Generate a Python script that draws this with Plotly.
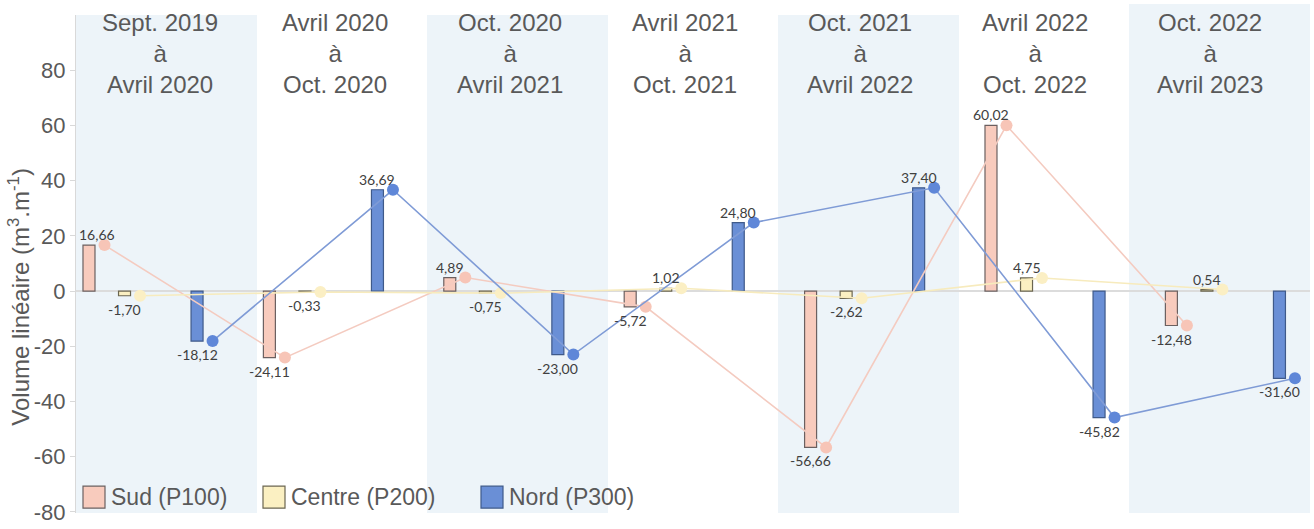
import plotly.graph_objects as go

# Periods between surveys
periods = [
    "Sept. 2019<br>à<br>Avril 2020",
    "Avril 2020<br>à<br>Oct. 2020",
    "Oct. 2020<br>à<br>Avril 2021",
    "Avril 2021<br>à<br>Oct. 2021",
    "Oct. 2021<br>à<br>Avril 2022",
    "Avril 2022<br>à<br>Oct. 2022",
    "Oct. 2022<br>à<br>Avril 2023",
]

# Linear sediment volume change per profile (m3.m-1)
sud = [16.66, -24.11, 4.89, -5.72, -56.66, 60.02, -12.48]
centre = [-1.70, -0.33, -0.75, 1.02, -2.62, 4.75, 0.54]
nord = [-18.12, 36.69, -23.00, 24.80, 37.40, -45.82, -31.60]

series_names = ["Sud (P100)", "Centre (P200)", "Nord (P300)"]

y_ticks = [-80, -60, -40, -20, 0, 20, 40, 60, 80]
y_ticktext = ["-80", "-60", "-40", "-20", "0", "20", "40", "60", "80"]

# ---- layout constants -------------------------------------------------
W, H = 1314, 529
ML, MR, MT, MB = 76, 4, 15, 12
PLOT_W = W - ML - MR
PLOT_H = H - MT - MB
PERIOD_PX = 180.4                      # horizontal spacing of one period
X_MAX = PLOT_W / PERIOD_PX

BAR_OFFSETS = [0.072, 0.269, 0.671]    # bar position inside a period
MARKER_SHIFT = 0.086                   # points sit just right of their bar
BAR_WIDTH = 0.0665

BAND_STEP = 175.5 / PERIOD_PX          # shaded column spacing
BAND_WIDTH = 181 / PERIOD_PX

TEXT = "#595959"
LABEL = "#404040"
FONT = "Liberation Sans, Arial, sans-serif"

fills = ["#f8cbbd", "#fbf0c2", "#6a8fd6"]
edges = ["#6b6060", "#6b6650", "#3f5a8a"]
line_cols = ["#f4cbc0", "#f7ebbd", "#7f9bd6"]
marker_cols = ["#f7c5b7", "#fbefc4", "#5f87d8"]


def px_x(px):
    return (px - ML) / PLOT_W


def px_y(py):
    return (H - MB - py) / PLOT_H


fig = go.Figure()

all_series = [sud, centre, nord]
idx = list(range(len(periods)))

for s, vals in enumerate(all_series):
    xb = [i + BAR_OFFSETS[s] for i in idx]
    fig.add_trace(go.Bar(
        x=xb, y=vals, width=BAR_WIDTH, name=series_names[s],
        marker=dict(color=fills[s], line=dict(color=edges[s], width=1.2)),
        showlegend=False, hoverinfo="skip",
    ))

for s, vals in enumerate(all_series):
    xm = [i + BAR_OFFSETS[s] + MARKER_SHIFT for i in idx]
    fig.add_trace(go.Scatter(
        x=xm, y=vals, mode="lines+markers", name=series_names[s],
        line=dict(color=line_cols[s], width=1.6),
        marker=dict(color=marker_cols[s], size=12, line=dict(width=0)),
        showlegend=False, hoverinfo="skip",
    ))

shapes = []
annotations = []

# value labels above / below each bar
for s, vals in enumerate(all_series):
    for i, v in zip(idx, vals):
        annotations.append(dict(
            x=i + BAR_OFFSETS[s], xref="x", y=v, yref="y",
            text=f"{v:.2f}".replace(".", ","), showarrow=False,
            xanchor="center", yanchor="bottom" if v >= 0 else "top",
            yshift=0 if v >= 0 else -3,
            xshift=8 if (s == 0 and i == 0) else 0,
            font=dict(family="Lato, sans-serif", size=14, color=LABEL),
        ))

# shaded columns for every other period
for k in range(0, len(periods), 2):
    x0 = k * BAND_STEP
    x1 = min(x0 + BAND_WIDTH, X_MAX)
    top = 1.0 if k < len(periods) - 1 else px_y(4)
    shapes.append(dict(
        type="rect", xref="x", yref="paper", x0=x0, x1=x1, y0=0, y1=top,
        fillcolor="#edf4f9", line=dict(width=0), layer="below",
    ))

# period headers
for k, label in enumerate(periods):
    cx = (84 + 175 * k) / PERIOD_PX
    annotations.append(dict(
        x=cx, xref="x", y=px_y(54), yref="paper", text=label,
        showarrow=False, xanchor="center", yanchor="middle",
        font=dict(family=FONT, size=24, color=TEXT), align="center",
    ))

# y axis title
annotations.append(dict(
    x=px_x(19), xref="paper", y=px_y(299), yref="paper",
    text="Volume linéaire (m<sup>3</sup>.m<sup>-1</sup>)", textangle=-90,
    showarrow=False, xanchor="center", yanchor="middle",
    font=dict(family=FONT, size=24, color=TEXT),
))

# legend drawn as boxes + labels
legend_items = [(83, series_names[0]), (263, series_names[1]), (481, series_names[2])]
for s, (bx, name) in enumerate(legend_items):
    shapes.append(dict(
        type="rect", xref="paper", yref="paper",
        x0=px_x(bx), x1=px_x(bx + 22), y0=px_y(512), y1=px_y(490),
        fillcolor=fills[s], line=dict(color=edges[s], width=1.2),
    ))
    annotations.append(dict(
        x=px_x(bx + 26), xref="paper", y=px_y(501), yref="paper",
        text=name, showarrow=False, xanchor="left", yanchor="middle",
        font=dict(family=FONT, size=23, color=TEXT),
    ))

fig.update_layout(
    width=W, height=H,
    margin=dict(l=ML, r=MR, t=MT, b=MB),
    paper_bgcolor="white", plot_bgcolor="rgba(0,0,0,0)",
    barmode="overlay",
    shapes=shapes, annotations=annotations,
    showlegend=False,
    xaxis=dict(range=[0, X_MAX], showticklabels=False, showgrid=False,
               zeroline=False, showline=False, ticks=""),
    yaxis=dict(
        range=[-80.4, 100], tickvals=y_ticks, ticktext=y_ticktext,
        showgrid=False, zeroline=True, zerolinecolor="#dcdcdc", zerolinewidth=1.5,
        showline=True, linecolor="#d9d9d9", linewidth=1,
        ticks="outside", ticklen=5, tickcolor="#d9d9d9",
        tickfont=dict(family=FONT, size=22, color=TEXT),
    ),
)

fig.write_html("out.html")
